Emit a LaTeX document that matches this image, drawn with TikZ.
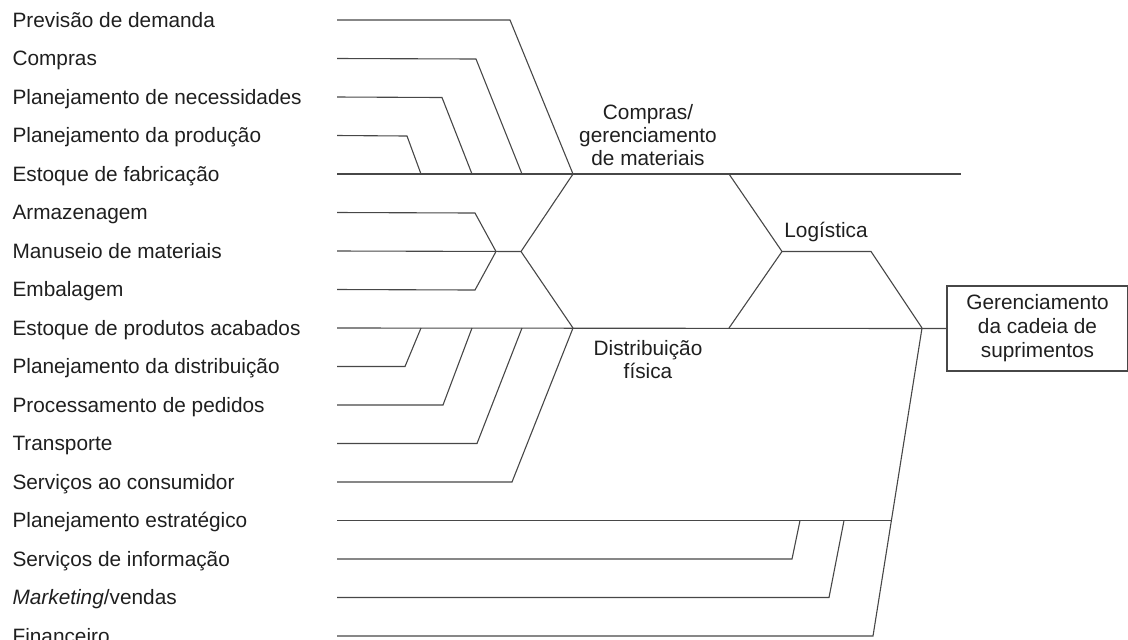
\documentclass[tikz,border=0pt]{standalone}
\usepackage{fontspec}
\setmainfont{Liberation Sans}
\usetikzlibrary{positioning}

\begin{document}
\begin{tikzpicture}[x=0.5pt, y=-0.5pt, line width=0.55pt, draw=black!72,
    every node/.style={font=\fontsize{10.4}{11.5}\selectfont, text=black!88},
    item/.style={anchor=base west, inner sep=0pt},
    group/.style={align=center, inner sep=0pt},
    scmbox/.style={draw, align=center, minimum width=90.5pt, minimum height=42.5pt, inner sep=0pt,
      font=\fontsize{10.4}{12}\selectfont}]
  \useasboundingbox (0,0) rectangle (1128,639);
  % activities on the left
  \foreach \txt [count=\i] in {Previsão de demanda, Compras, Planejamento de necessidades,
      Planejamento da produção, Estoque de fabricação, Armazenagem, Manuseio de materiais,
      Embalagem, Estoque de produtos acabados, Planejamento da distribuição,
      Processamento de pedidos, Transporte, Serviços ao consumidor, Planejamento estratégico,
      Serviços de informação, \textit{Marketing}/vendas, Financeiro} {
    \node[item] (l\i) at (12, {20+(\i-1)*38.5+7.3}) {\txt};
    \coordinate (r\i) at (337, {20+(\i-1)*38.5});
  }
  % junctions
  \coordinate (jm) at (573,174);
  \coordinate (jd) at (573,328);
  \coordinate (jh) at (521,251.5);
  \coordinate (jk) at (496,251.5);
  \coordinate (jl) at (782,251.5);
  \coordinate (jr) at (871,251.5);
  \coordinate (js) at (922,328);
  \node[group] (mat) at (648,135) {Compras/\\gerenciamento\\de materiais};
  \node[group] (dist) at (648,360) {Distribuição\\física};
  \node[group] (log) at (826,232) {Logística};
  \node[scmbox] (scm) at (1037.5,328.5) {Gerenciamento\\da cadeia de\\suprimentos};
  % materials branch
  \draw (r1) -- (510,20) -- (jm);
  \draw (r2) -- (476,59) -- (522,174);
  \draw (r3) -- (442,97.5) -- (472,174);
  \draw (r4) -- (407,136) -- (421,174);
  \draw (r5) -- (961,174);
  \draw (r6) -- (475,213) -- (jk);
  \draw (r7) -- (jh) -- (jm);
  \draw (jh) -- (jd);
  \draw (r8) -- (475,290) -- (jk);
  % physical distribution branch
  \draw (r9) -- (scm.west);
  \draw (r10) -- (405,366.5) -- (421,328);
  \draw (r11) -- (443,405) -- (472,328);
  \draw (r12) -- (477,443.5) -- (522,328);
  \draw (r13) -- (512,482) -- (jd);
  % logistics
  \draw (729,174) -- (jl) -- (jr) -- (js);
  \draw (729,328) -- (jl);
  % support activities
  \draw (r14) -- (892,520.5);
  \draw (r15) -- (792,559) -- (800,520.5);
  \draw (r16) -- (829,597.5) -- (844,520.5);
  \draw (r17) -- (873,636) -- (js);
\end{tikzpicture}
\end{document}
